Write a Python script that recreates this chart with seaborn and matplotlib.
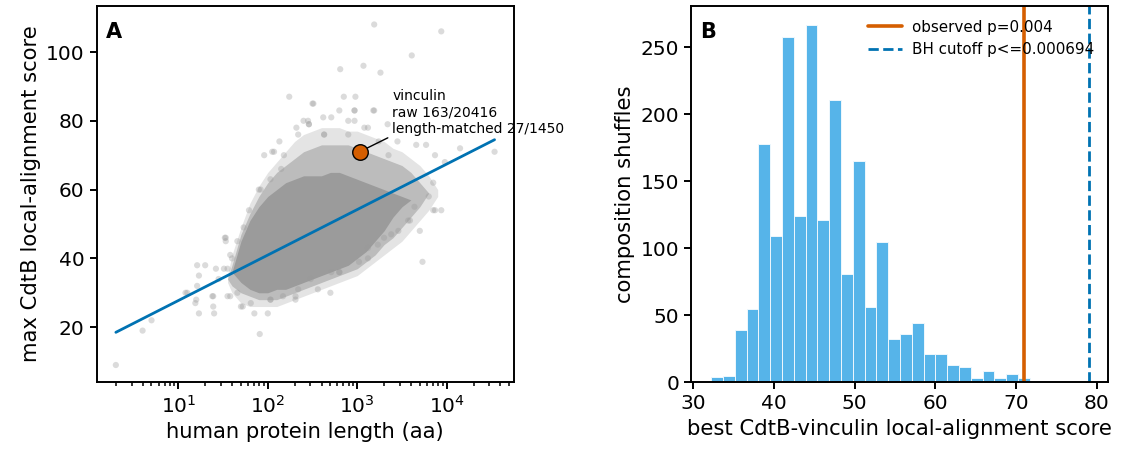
"""
Panel A: score vs human protein length (cloud of 20416 proteins, vinculin highlighted)
Panel B: composition-shuffle null distribution for CdtB-vinculin
"""

import numpy as np
import pandas as pd
import matplotlib
matplotlib.use("Agg")
import matplotlib.pyplot as plt
import seaborn as sns

# --- panel A data ---------------------------------------------------------
# density envelopes of the protein cloud, read per column of log10(length)
# fringe = scattered but frequent dots, mid = overlapping dots, core = saturated
env_log_len = [1.55, 1.6, 1.7, 1.8, 1.9, 2.0, 2.1, 2.2, 2.3, 2.4, 2.5, 2.6,
               2.7, 2.8, 2.9, 3.0, 3.1, 3.2, 3.3, 3.4, 3.5, 3.6, 3.7, 3.8, 3.9]
fringe_lo = [33, 30, 27, 26, 26, 26, 26, 27, 28, 29, 30, 31,
             32, 33, 34, 35, 37, 39, 41, 43, 45, 48, 51, 54, 58]
fringe_hi = [35, 41, 49, 56, 61, 65, 68, 71, 74, 76, 77, 78,
             78, 78, 77, 77, 76, 75, 74, 72, 71, 69, 67, 64, 60]
mid_lo = [34, 32, 30, 29, 28, 28, 28, 29, 30, 31, 32, 33,
          34, 35, 36, 37, 39, 41, 44, 46, 49, 52, 55, 59, 59]
mid_hi = [34, 38, 47, 53, 58, 62, 65, 67, 69, 71, 72, 73,
          73, 73, 73, 72, 71, 70, 69, 68, 67, 65, 62, 59, 59]
core_lo = [36, 36, 33, 31, 30, 30, 31, 31, 32, 33, 34, 35,
           36, 37, 38, 40, 42, 45, 48, 52, 55, 57, 57, 57, 57]
core_hi = [36, 36, 45, 51, 55, 58, 60, 62, 63, 64, 64, 64,
           65, 65, 64, 63, 62, 61, 60, 59, 58, 57, 57, 57, 57]

# individual proteins visible outside / at the edge of the cloud
out_log_len = [3.19, 3.94, 3.61, 2.81, 3.07, 3.26, 2.24, 2.85, 2.98, 2.50,
               2.97, 3.19, 2.80, 2.71, 3.34, 3.77, 3.87, 4.15, 4.536, 3.98,
               3.85, 3.94, 3.73, 1.96, 2.05, 2.32, 2.46, 1.53, 1.66, 1.21,
               1.30, 1.42, 1.51, 1.23, 1.10, 1.21, 1.20, 1.39, 1.39, 1.40,
               1.23, 1.55, 1.66, 0.70, 0.60, 0.301, 1.91, 1.72, 2.03, 2.31,
               2.56, 2.80, 3.12, 3.23, 3.38, 3.59, 3.85, 3.66, 2.63, 3.08,
               2.18, 1.90, 1.79, 1.73, 1.08, 1.19, 1.38, 1.52, 1.45, 1.60,
               2.13, 2.40, 2.62, 2.90, 3.45, 3.70, 3.80, 1.85, 2.00, 2.70,
               2.51, 2.97, 3.18, 2.45, 2.97, 2.34, 2.46, 2.63, 2.90, 3.12,
               2.07, 2.15, 2.03, 1.92, 3.24, 3.35, 1.53, 1.58, 1.55, 1.58,
               1.70, 1.81, 2.03, 2.17, 2.31, 2.34, 2.48, 2.71, 2.80, 3.02,
               3.12, 3.30, 3.46, 3.57, 3.64, 3.87]
out_score = [108, 106, 99, 95, 96, 94, 87, 87, 87, 85,
             83, 83, 83, 81, 79, 73, 70, 72, 71, 68,
             54, 54, 39, 70, 71, 78, 79, 46, 45, 38,
             38, 37, 37, 35, 30, 32, 28, 29, 26, 24,
             24, 29, 30, 22, 19, 9, 18, 26, 28, 29,
             31, 36, 40, 44, 47, 51, 62, 73, 76, 78,
             70, 60, 54, 49, 30, 27, 29, 46, 34, 40,
             74, 80, 81, 80, 74, 48, 58, 24, 24, 30,
             85, 83, 83, 80, 80, 76, 79, 76, 76, 78,
             71, 66, 63, 60, 74, 70, 45, 41, 37, 29,
             26, 27, 28, 29, 28, 31, 34, 36, 36, 39,
             43, 46, 48, 51, 55, 54]

vinculin_len = 1066
vinculin_score = 71

# least-squares fit line, endpoints at shortest / longest protein
fit_len = [2, 34350]
fit_score = [18.5, 74.5]

# --- panel B data ---------------------------------------------------------
bin_lo, bin_hi = 32.2, 71.7
shuffle_counts = [4, 5, 39, 55, 178, 109, 258, 124, 267, 121, 211, 81, 165,
                  56, 105, 32, 36, 44, 21, 21, 13, 11, 3, 8, 3, 6, 3]
observed_score = 71
bh_cutoff_score = 79

# --- style ----------------------------------------------------------------
sns.set_style("ticks")
plt.rcParams.update({
    "font.family": ["DejaVu Sans"],
    "text.color": "black",
    "axes.labelcolor": "black",
    "axes.edgecolor": "black",
    "xtick.color": "black",
    "ytick.color": "black",
    "axes.linewidth": 1.4,
    "xtick.major.width": 1.4,
    "ytick.major.width": 1.4,
    "xtick.minor.width": 1.1,
    "xtick.major.size": 5.3,
    "ytick.major.size": 5.3,
    "xtick.minor.size": 3,
    "xtick.labelsize": 14.5,
    "ytick.labelsize": 14.5,
    "axes.labelsize": 15.2,
})

fig, (ax1, ax2) = plt.subplots(1, 2, figsize=(11.21, 4.55), dpi=100)
fig.subplots_adjust(left=0.0865, right=0.9884, top=0.987, bottom=0.160, wspace=0.427)

# panel A
env_len = 10 ** np.array(env_log_len)
ax1.fill_between(env_len, fringe_lo, fringe_hi, color="#e4e4e4", lw=0)
ax1.fill_between(env_len, mid_lo, mid_hi, color="#bcbcbc", lw=0)
ax1.fill_between(env_len, core_lo, core_hi, color="#9b9b9b", lw=0)
sns.scatterplot(x=10 ** np.array(out_log_len), y=out_score, color="0.6",
                alpha=0.35, s=20, edgecolor="none", ax=ax1)
sns.lineplot(x=fit_len, y=fit_score, color="#0072b2", lw=2, ax=ax1)
ax1.scatter([vinculin_len], [vinculin_score], s=125, color="#d55e00",
            edgecolor="black", linewidth=1, zorder=5)
ax1.annotate("vinculin\nraw 163/20416\nlength-matched 27/1450",
             xy=(vinculin_len, vinculin_score), xytext=(2470, 75.7),
             ha="left", va="bottom", fontsize=10, annotation_clip=False,
             arrowprops=dict(arrowstyle="-", color="black", lw=1,
                             relpos=(0, 0), shrinkA=1, shrinkB=6))
ax1.set_xscale("log")
ax1.set_xlim(1.23, 56000)
ax1.set_ylim(4, 113.4)
ax1.set_yticks([20, 40, 60, 80, 100])
ax1.set_xlabel("human protein length (aa)")
ax1.set_ylabel("max CdtB local-alignment score")
ax1.text(0.022, 0.958, "A", transform=ax1.transAxes, fontsize=15,
         fontweight="bold", va="top", ha="left")

# panel B
edges = np.linspace(bin_lo, bin_hi, len(shuffle_counts) + 1)
hist_df = pd.DataFrame({
    "score": (edges[:-1] + edges[1:]) / 2,
    "n": shuffle_counts,
})
sns.histplot(data=hist_df, x="score", weights="n", bins=list(edges),
             color="#56b4e9", edgecolor="#eef7fd", linewidth=0.7, alpha=1, ax=ax2)
ax2.axvline(observed_score, color="#d55e00", lw=2.6, label="observed p=0.004")
ax2.axvline(bh_cutoff_score, color="#0072b2", lw=2, ls="--",
            label="BH cutoff p<=0.000694")
ax2.set_xlim(29.75, 81.4)
ax2.set_ylim(0, 281)
ax2.set_xticks([30, 40, 50, 60, 70, 80])
ax2.set_xlabel("best CdtB-vinculin local-alignment score")
ax2.set_ylabel("composition shuffles")
ax2.legend(loc="upper right", frameon=False, fontsize=10.9,
           handlelength=2.2, handletextpad=0.7)
ax2.text(0.022, 0.958, "B", transform=ax2.transAxes, fontsize=15,
         fontweight="bold", va="top", ha="left")

fig.savefig("out.png", dpi=100)
